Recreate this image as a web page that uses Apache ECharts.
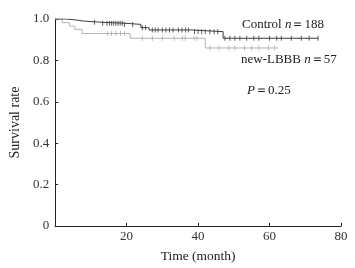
<!DOCTYPE html>
<html>
<head>
<meta charset="utf-8">
<script src="https://cdn.jsdelivr.net/npm/echarts@6/dist/echarts.min.js"></script>
<style>
  html, body { margin: 0; padding: 0; background: #fff; }
  #chart { width: 355px; height: 268px; }
</style>
</head>
<body>
<div id="chart"></div>
<script>
// 生存曲线数据 (时间/月, 生存率)
var controlTimes = [0, 3, 5.5, 8, 13, 19, 24, 26.3, 38, 47, 73.6];
var controlSurv  = [1.0, 0.996, 0.99, 0.984, 0.98, 0.974, 0.958, 0.947, 0.939, 0.907, 0.907];
var lbbbTimes = [0, 2, 4, 5.5, 7.5, 21, 42, 62.4];
var lbbbSurv  = [1.0, 0.982, 0.966, 0.95, 0.93, 0.907, 0.86, 0.86];

// 删失时间点
var controlCensor = [11, 13.3, 14.5, 15.2, 15.8, 16.4, 17, 17.6, 18.2, 18.8, 19.4, 21.7,
  24.4, 25.3, 27.2, 28, 28.8, 30, 31, 32, 33, 34.5, 35.5, 36.5, 37.3, 39, 40, 41,
  42, 43.3, 44.5, 45.5, 47.5, 48.9, 50.3, 51.7, 53.6, 55.6, 57, 60, 62, 63.3,
  66.1, 68.9, 71.1, 73.6];
var lbbbCensor = [14.7, 15.8, 17, 18.3, 19.4, 24.4, 27.2, 30, 33.3, 35.6, 36.4, 38.9,
  39.7, 43.3, 45.8, 48.6, 50.3, 53, 55, 57, 59.7, 61.4];

var xTicks = [0, 20, 40, 60, 80];
var yTicks = [0, 0.2, 0.4, 0.6, 0.8, 1.0];

var SERIF = '"Liberation Serif", "DejaVu Serif", serif';

function toPairs(xs, ys) {
  return xs.map(function(x, i) { return [x, ys[i]]; });
}

// 阶梯函数取值
function survAt(times, surv, t) {
  var v = surv[0];
  for (var i = 0; i < times.length; i++) {
    if (times[i] <= t) v = surv[i];
  }
  return v;
}

function censorPairs(times, surv, cens) {
  return cens.map(function(t) { return [t, survAt(times, surv, t)]; });
}

var chart = echarts.init(document.getElementById('chart'));
chart.setOption({
  backgroundColor: '#fff',
  animation: false,
  grid: { left: 52, right: 14, top: 19, bottom: 42 },
  xAxis: {
    type: 'value',
    min: xTicks[0],
    max: xTicks[xTicks.length - 1],
    interval: 20,
    name: 'Time (month)',
    nameLocation: 'middle',
    nameGap: 23,
    nameTextStyle: { fontFamily: SERIF, fontSize: 13.5, color: '#222' },
    axisLine: { lineStyle: { color: '#222', width: 1 } },
    axisTick: { inside: true, length: 3, lineStyle: { color: '#222' } },
    axisLabel: {
      fontFamily: SERIF, fontSize: 13, color: '#333', margin: 4,
      showMinLabel: false
    },
    splitLine: { show: false }
  },
  yAxis: {
    type: 'value',
    min: yTicks[0],
    max: yTicks[yTicks.length - 1],
    interval: 0.2,
    name: 'Survival rate',
    nameLocation: 'middle',
    nameGap: 30,
    nameTextStyle: { fontFamily: SERIF, fontSize: 14, color: '#222' },
    axisLine: { show: true, lineStyle: { color: '#222', width: 1 } },
    axisTick: { show: true, inside: true, length: 3, lineStyle: { color: '#222' } },
    axisLabel: {
      fontFamily: SERIF, fontSize: 13, color: '#333', margin: 6,
      formatter: function(v) { return v === 0 ? '0' : v.toFixed(1); }
    },
    splitLine: { show: false }
  },
  graphic: [
    {
      type: 'text', left: 242, top: 18,
      style: {
        text: '{a|Control }{i|n}{a|＝188}',
        rich: {
          a: { fontFamily: SERIF, fontSize: 13, fill: '#222' },
          i: { fontFamily: SERIF, fontSize: 13, fontStyle: 'italic', fill: '#222' }
        }
      }
    },
    {
      type: 'text', left: 241, top: 53,
      style: {
        text: '{a|new-LBBB }{i|n}{a|＝57}',
        rich: {
          a: { fontFamily: SERIF, fontSize: 13, fill: '#222' },
          i: { fontFamily: SERIF, fontSize: 13, fontStyle: 'italic', fill: '#222' }
        }
      }
    },
    {
      type: 'text', left: 247, top: 84,
      style: {
        text: '{i|P}{a|＝0.25}',
        rich: {
          a: { fontFamily: SERIF, fontSize: 13, fill: '#222' },
          i: { fontFamily: SERIF, fontSize: 13, fontStyle: 'italic', fill: '#222' }
        }
      }
    }
  ],
  series: [
    {
      name: 'new-LBBB',
      type: 'line',
      step: 'end',
      symbol: 'none',
      data: toPairs(lbbbTimes, lbbbSurv),
      lineStyle: { color: '#b4b4b4', width: 1 },
      z: 2
    },
    {
      name: 'new-LBBB censor',
      type: 'scatter',
      symbol: 'rect',
      symbolSize: [1, 5],
      data: censorPairs(lbbbTimes, lbbbSurv, lbbbCensor),
      itemStyle: { color: '#aaaaaa' },
      z: 2
    },
    {
      name: 'Control',
      type: 'line',
      step: 'end',
      symbol: 'none',
      data: toPairs(controlTimes, controlSurv),
      lineStyle: { color: '#3c3c3c', width: 1 },
      z: 3
    },
    {
      name: 'Control censor',
      type: 'scatter',
      symbol: 'rect',
      symbolSize: [1, 5],
      data: censorPairs(controlTimes, controlSurv, controlCensor),
      itemStyle: { color: '#3c3c3c' },
      z: 3
    }
  ]
});
</script>
</body>
</html>
